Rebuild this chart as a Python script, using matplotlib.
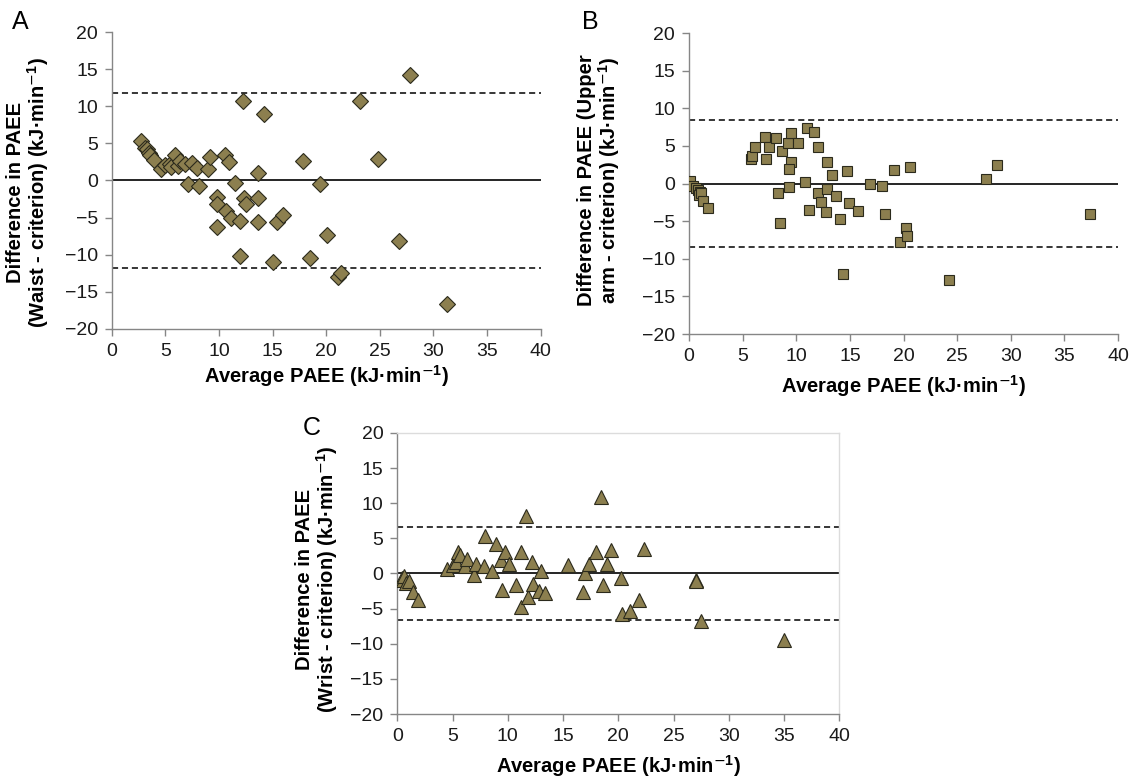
import matplotlib
matplotlib.use('Agg')
from matplotlib import pyplot as plt

plt.rcParams['font.family'] = ['Liberation Sans', 'DejaVu Sans']
plt.rcParams['mathtext.default'] = 'regular'

# --- data ---
# A: waist
waist_x = [2.7, 3.1, 3.3, 3.5, 3.6, 3.9, 4.6, 5.0, 5.4, 5.5, 5.9, 6.2, 6.4, 6.8, 7.1, 7.5,
           8.0, 8.1, 9.0, 9.2, 9.8, 9.8, 9.8, 10.6, 10.9, 10.7, 11.1, 11.5, 12.0, 12.0,
           12.2, 12.3, 12.5, 13.6, 13.6, 13.6, 14.2, 15.0, 15.4, 16.0, 17.8, 18.5, 19.4,
           20.1, 21.1, 21.4, 23.2, 24.8, 26.8, 27.8, 31.3]
waist_d = [5.3, 4.4, 4.2, 3.7, 3.5, 2.8, 1.5, 2.1, 2.2, 1.8, 3.4, 1.9, 2.6, 2.2, -0.5, 2.4,
           1.7, -0.8, 1.6, 3.1, -2.2, -3.2, -6.3, 3.4, 2.5, -4.1, -5.1, -0.4, -5.5, -10.2,
           10.7, -2.3, -3.2, 1.0, -2.3, -5.6, 9.0, -11.0, -5.6, -4.7, 2.6, -10.5, -0.5,
           -7.4, -13.0, -12.5, 10.7, 2.9, -8.1, 14.2, -16.6]
waist_loa = 11.8

# B: upper arm
arm_x = [0.1, 0.4, 0.65, 0.8, 1.0, 0.9, 1.1, 1.3, 1.8, 5.8, 5.9, 6.2, 7.1, 7.2, 7.5, 8.1,
         8.3, 8.5, 8.7, 9.2, 9.5, 9.5, 9.3, 9.3, 10.2, 10.8, 11.0, 11.2, 11.7, 12.0, 12.0,
         12.3, 12.8, 12.9, 12.9, 13.3, 13.7, 14.1, 14.7, 14.9, 14.4, 15.8, 16.9, 18.0,
         18.3, 19.1, 19.7, 20.2, 20.3, 20.6, 24.2, 27.7, 28.7, 37.4]
arm_d = [0.3, -0.3, -0.6, -0.8, -1.1, -1.5, -1.2, -2.3, -3.3, 3.3, 3.7, 4.8, 6.2, 3.3, 4.9,
         6.1, -1.3, -5.3, 4.3, 5.4, 6.7, 2.8, 1.9, -0.5, 5.4, 0.2, 7.4, -3.5, 6.9, 4.8,
         -1.2, -2.4, -3.8, 2.9, -0.7, 1.1, -1.7, -4.7, 1.6, -2.6, -12.0, -3.6, 0.0, -0.3,
         -4.1, 1.8, -7.8, -5.9, -7.0, 2.2, -12.8, 0.6, 2.4, -4.1]
arm_loa = 8.5

# C: wrist
wrist_x = [0.4, 0.5, 0.6, 0.8, 1.1, 1.4, 1.9, 4.5, 5.0, 5.3, 5.5, 5.7, 6.1, 6.3, 6.9, 7.1,
           7.8, 7.9, 8.6, 8.9, 9.5, 9.4, 9.7, 10.1, 10.7, 11.2, 11.2, 11.6, 11.8, 12.2,
           12.3, 12.8, 13.0, 13.4, 15.4, 16.8, 17.0, 17.3, 18.0, 18.4, 18.6, 19.0, 19.3,
           20.2, 20.3, 21.1, 21.9, 22.3, 27.0, 27.0, 27.5, 35.0]
wrist_d = [-0.7, -0.9, -0.4, -1.4, -1.0, -2.7, -3.8, 0.6, 1.2, 1.7, 3.1, 2.7, 1.0, 2.0, -0.2,
           1.4, 1.0, 5.3, 0.4, 4.2, -2.4, 1.9, 3.0, 1.4, -1.7, -4.8, 3.1, 8.2, -3.4, 1.7,
           -1.5, -2.5, 0.4, -2.8, 1.2, -2.7, 0.0, 1.4, 3.1, 10.9, -1.7, 1.4, 3.3, -0.7,
           -5.7, -5.4, -3.8, 3.5, -0.9, -1.0, -6.7, -9.4]
wrist_loa = 6.6

xticks = list(range(0, 41, 5))
yticks = list(range(-20, 21, 5))
face = '#8c7f4f'
axis_grey = '#868686'
unit = r'(kJ·min$^{\mathsf{-}1}$)'

fig = plt.figure(figsize=(11.33, 7.79), dpi=100)


def panel(rect, x, d, loa, marker, ms, ylabel, ylab_pos, xpad, border=False):
    ax = fig.add_axes(rect)
    ax.axhline(0, color='black', lw=1.2, zorder=1)
    ax.axhline(loa, color='black', lw=1.1, ls=(0, (4, 2.5)), zorder=1)
    ax.axhline(-loa, color='black', lw=1.1, ls=(0, (4, 2.5)), zorder=1)
    ax.plot(x, d, ls='none', marker=marker, ms=ms, mfc=face, mec='#2b2a1c',
            mew=0.8, zorder=3)
    ax.set_xlim(0, 40)
    ax.set_ylim(-20, 20)
    ax.set_xticks(xticks)
    ax.set_yticks(yticks)
    ax.tick_params(labelsize=14, color=axis_grey, length=5, width=1,
                   labelcolor='#1a1a1a', pad=5)
    for s in ['left', 'bottom']:
        ax.spines[s].set_color(axis_grey)
        ax.spines[s].set_linewidth(1)
    if border:
        for s in ['top', 'right']:
            ax.spines[s].set_color('#dcdcdc')
            ax.spines[s].set_linewidth(1)
    else:
        ax.spines['top'].set_visible(False)
        ax.spines['right'].set_visible(False)
    ax.set_xlabel('Average PAEE ' + unit, fontsize=14.5, fontweight='bold', labelpad=xpad)
    ax.set_ylabel(ylabel, fontsize=14.5, fontweight='bold', linespacing=1.0)
    ax.yaxis.set_label_coords(*ylab_pos)
    return ax


panel([0.0986, 0.5777, 0.3785, 0.3812], waist_x, waist_d, waist_loa, 'D', 8.5,
      'Difference in PAEE\n(Waist - criterion) ' + unit, (-0.141, 0.46), 2)
panel([0.6081, 0.5712, 0.3787, 0.3864], arm_x, arm_d, arm_loa, 's', 7.5,
      'Difference in PAEE (Upper\narm - criterion) ' + unit, (-0.156, 0.51), 6)
panel([0.3507, 0.0834, 0.3901, 0.3608], wrist_x, wrist_d, wrist_loa, '^', 10,
      'Difference in PAEE\n(Wrist - criterion) ' + unit, (-0.13, 0.48), 6, border=True)

fig.text(0.0177, 0.9718, 'A', fontsize=18, ha='center', va='center')
fig.text(0.5207, 0.9718, 'B', fontsize=18, ha='center', va='center')
fig.text(0.2751, 0.4506, 'C', fontsize=18, ha='center', va='center')

fig.savefig('out.png', dpi=100)
